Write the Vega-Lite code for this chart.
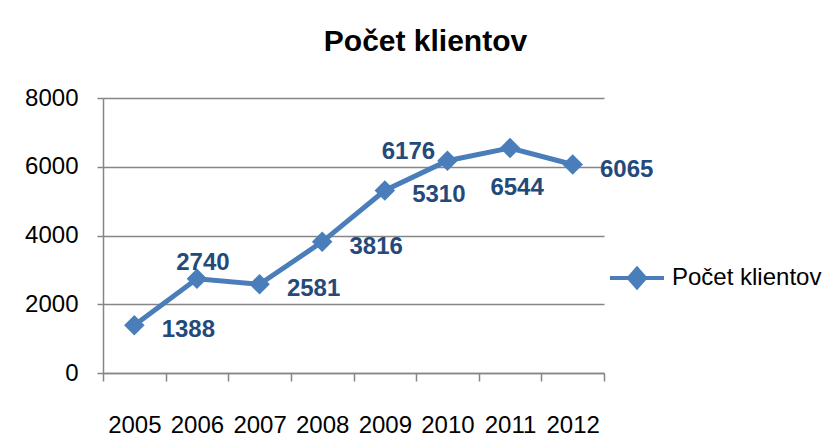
{
  "$schema": "https://vega.github.io/schema/vega-lite/v6.json",
  "width": 501,
  "height": 275,
  "autosize": "none",
  "padding": {"left": 103, "top": 98, "right": 222, "bottom": 72},
  "background": "white",
  "config": {"view": {"stroke": null}, "font": "Liberation Sans"},
  "title": {
    "text": "Počet klientov",
    "font": "Liberation Sans",
    "fontSize": 30,
    "fontWeight": "bold",
    "color": "black",
    "anchor": "middle",
    "frame": "group",
    "dx": 72,
    "offset": 29
  },
  "data": {
    "values": [
      {"year": 2005, "count": 1388},
      {"year": 2006, "count": 2740},
      {"year": 2007, "count": 2581},
      {"year": 2008, "count": 3816},
      {"year": 2009, "count": 5310},
      {"year": 2010, "count": 6176},
      {"year": 2011, "count": 6544},
      {"year": 2012, "count": 6065}
    ]
  },
  "encoding": {
    "y": {
      "field": "count",
      "type": "quantitative",
      "scale": {"domain": [0, 8000], "nice": false},
      "axis": {
        "values": [0, 2000, 4000, 6000, 8000],
        "format": "d",
        "grid": true,
        "gridColor": "#868686",
        "gridWidth": 1.5,
        "domainColor": "#868686",
        "domainWidth": 1.5,
        "tickColor": "#868686",
        "tickWidth": 1.5,
        "tickSize": 6,
        "labelFont": "Liberation Sans",
        "labelFontSize": 24,
        "labelColor": "black",
        "labelPadding": 19,
        "title": null
      }
    }
  },
  "layer": [
    {
      "mark": {"type": "line", "strokeWidth": 5},
      "encoding": {
        "x": {
          "field": "year",
          "type": "quantitative",
          "scale": {"domain": [2004.5, 2012.5], "nice": false, "zero": false},
          "axis": {
            "orient": "bottom",
            "values": [2004.5, 2005.5, 2006.5, 2007.5, 2008.5, 2009.5, 2010.5, 2011.5, 2012.5],
            "labels": false,
            "ticks": true,
            "tickSize": 8,
            "tickColor": "#868686",
            "tickWidth": 1.5,
            "domain": true,
            "domainColor": "#868686",
            "domainWidth": 1.5,
            "grid": false,
            "title": null
          }
        },
        "color": {
          "datum": "Počet klientov",
          "scale": {"range": ["#4A7EBB"]},
          "legend": {
            "orient": "none",
            "legendX": 505,
            "legendY": 151,
            "title": null,
            "symbolType": "M-1,0H1M-0.3,0L0,-0.34L0.3,0L0,0.34Z",
            "symbolSize": 2916,
            "symbolStrokeWidth": 4,
            "symbolFillColor": "#4A7EBB",
            "symbolStrokeColor": "#4A7EBB",
            "symbolOpacity": 1,
            "labelFont": "Liberation Sans",
            "labelFontSize": 24,
            "labelColor": "black",
            "labelOffset": 6,
            "padding": 0
          }
        }
      }
    },
    {
      "mark": {"type": "point", "shape": "diamond", "filled": true, "size": 420, "opacity": 1},
      "encoding": {
        "x": {
          "field": "year",
          "type": "quantitative",
          "axis": {
            "orient": "bottom",
            "values": [2005, 2006, 2007, 2008, 2009, 2010, 2011, 2012],
            "format": "d",
            "labels": true,
            "ticks": false,
            "domain": false,
            "grid": false,
            "labelFont": "Liberation Sans",
            "labelFontSize": 24,
            "labelColor": "black",
            "labelPadding": 40,
            "title": null
          }
        },
        "color": {"datum": "Počet klientov"}
      }
    },
    {
      "transform": [{"filter": {"field": "year", "oneOf": [2005, 2007, 2008, 2009, 2012]}}],
      "mark": {"type": "text", "font": "Liberation Sans", "fontSize": 24, "fontWeight": "bold", "color": "#244A7C", "dx": 54, "dy": 5},
      "encoding": {
        "x": {"field": "year", "type": "quantitative", "axis": null},
        "text": {"field": "count", "type": "quantitative", "format": "d"}
      }
    },
    {
      "transform": [{"filter": {"field": "year", "equal": 2006}}],
      "mark": {"type": "text", "font": "Liberation Sans", "fontSize": 24, "fontWeight": "bold", "color": "#244A7C", "dx": 6, "dy": -16},
      "encoding": {
        "x": {"field": "year", "type": "quantitative", "axis": null},
        "text": {"field": "count", "type": "quantitative", "format": "d"}
      }
    },
    {
      "transform": [{"filter": {"field": "year", "equal": 2010}}],
      "mark": {"type": "text", "font": "Liberation Sans", "fontSize": 24, "fontWeight": "bold", "color": "#244A7C", "dx": -39, "dy": -9},
      "encoding": {
        "x": {"field": "year", "type": "quantitative", "axis": null},
        "text": {"field": "count", "type": "quantitative", "format": "d"}
      }
    },
    {
      "transform": [{"filter": {"field": "year", "equal": 2011}}],
      "mark": {"type": "text", "font": "Liberation Sans", "fontSize": 24, "fontWeight": "bold", "color": "#244A7C", "dx": 7, "dy": 40},
      "encoding": {
        "x": {"field": "year", "type": "quantitative", "axis": null},
        "text": {"field": "count", "type": "quantitative", "format": "d"}
      }
    }
  ],
  "resolve": {"axis": {"x": "independent"}}
}
